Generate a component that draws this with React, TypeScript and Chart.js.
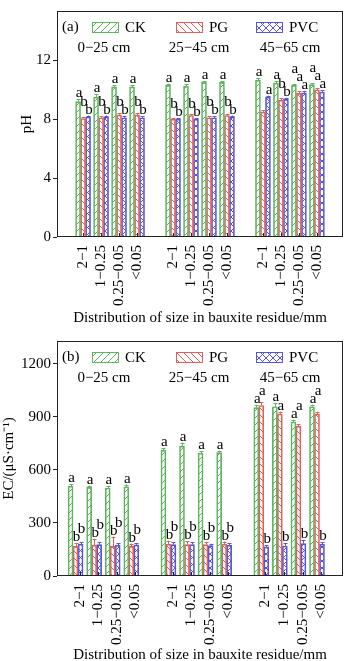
import React, { useEffect, useRef } from 'react';
import { Chart, registerables } from 'chart.js';
Chart.register(...registerables);

const FONT = '"Liberation Serif", "Times New Roman", serif';

const sizeLabels = ['2−1', '1−0.25', '0.25−0.05', '<0.05'];
const depthLabels = ['0−25 cm', '25−45 cm', '45−65 cm'];
const seriesNames = ['CK', 'PG', 'PVC'];
const seriesColors = ['rgb(95,180,95)', 'rgb(226,95,95)', 'rgb(85,85,220)'];
const hatchKinds = ['fwd', 'back', 'cross'];
const xTitle = 'Distribution of size in bauxite residue/mm';

// pH panel (a)
const phCK = [9.2, 9.5, 10.2, 10.2, 10.3, 10.25, 10.5, 10.5, 10.65, 10.45, 10.3, 10.35];
const phPG = [8.05, 8.1, 8.3, 8.3, 8.0, 8.25, 8.1, 8.25, 8.5, 9.3, 9.75, 10.0];
const phPVC = [8.15, 8.15, 8.1, 8.1, 8.0, 8.0, 8.1, 8.15, 9.5, 9.35, 9.8, 9.85];
const phCKErr = [0.15, 0.2, 0.12, 0.12, 0.12, 0.12, 0.1, 0.1, 0.12, 0.15, 0.1, 0.1];
const phPGErr = [0.1, 0.1, 0.1, 0.1, 0.08, 0.1, 0.12, 0.1, 0.1, 0.12, 0.15, 0.1];
const phPVCErr = [0.1, 0.1, 0.1, 0.1, 0.08, 0.08, 0.1, 0.1, 0.1, 0.1, 0.12, 0.12];
const phCKSig = ['a', 'a', 'a', 'a', 'a', 'a', 'a', 'a', 'a', 'a', 'a', 'a'];
const phPGSig = ['b', 'b', 'b', 'b', 'b', 'b', 'b', 'b', '', 'b', 'a', 'a'];
const phPVCSig = ['b', 'b', 'b', 'b', 'b', 'b', 'b', 'b', 'a', 'b', 'a', 'a'];
const phTicks = [0, 4, 8, 12];

// EC panel (b)
const ecCK = [508, 502, 498, 505, 712, 735, 695, 698, 953, 958, 872, 958];
const ecPG = [168, 175, 168, 168, 180, 178, 178, 180, 965, 918, 848, 918];
const ecPVC = [180, 178, 175, 176, 178, 178, 172, 175, 165, 170, 183, 180];
const ecCKErr = [10, 10, 12, 12, 12, 20, 12, 12, 15, 20, 12, 12];
const ecPGErr = [20, 35, 55, 15, 20, 20, 15, 15, 18, 12, 12, 12];
const ecPVCErr = [12, 12, 10, 10, 12, 12, 10, 10, 10, 15, 20, 12];
const ecCKSig = ['a', 'a', 'a', 'a', 'a', 'a', 'a', 'a', 'a', 'a', 'a', 'a'];
const ecPGSig = ['b', 'b', 'b', 'b', 'b', 'b', 'b', 'b', 'a', 'a', 'a', 'a'];
const ecPVCSig = ['b', 'b', 'b', 'b', 'b', 'b', 'b', 'b', 'b', 'b', 'b', 'b'];
const ecTicks = [0, 300, 600, 900, 1200];

function makePattern(kind: string, color: string) {
  const s = 7;
  const c = document.createElement('canvas');
  c.width = s;
  c.height = s;
  const g = c.getContext('2d')!;
  g.strokeStyle = color;
  g.lineWidth = 1;
  const line = (x0: number, y0: number, x1: number, y1: number) => {
    g.beginPath();
    g.moveTo(x0, y0);
    g.lineTo(x1, y1);
    g.stroke();
  };
  if (kind === 'fwd' || kind === 'cross') {
    line(-1, s + 1, s + 1, -1);
    line(-1, 1, 1, -1);
    line(s - 1, s + 1, s + 1, s - 1);
  }
  if (kind === 'back' || kind === 'cross') {
    line(-1, -1, s + 1, s + 1);
    line(s - 1, -1, s + 1, 1);
    line(-1, s - 1, 1, s + 1);
  }
  return g.createPattern(c, 'repeat');
}

// slot index per category: 4 sizes per depth, one empty slot between depths
const slotPositions: number[] = [];
depthLabels.forEach((_, g) => sizeLabels.forEach((__, c) => slotPositions.push(g * 5 + c)));

const overlay = {
  id: 'overlay',
  afterDatasetsDraw(chart: any, _args: any, opts: any) {
    const { ctx } = chart;
    const y = chart.scales.y;
    ctx.save();
    const tops: number[][] = [];
    chart.data.datasets.forEach((_ds: any, di: number) => {
      const meta = chart.getDatasetMeta(di);
      tops[di] = [];
      meta.data.forEach((el: any, i: number) => {
        const v = opts.values[di][i];
        const e = opts.errors[di][i];
        const yt = y.getPixelForValue(v + e);
        tops[di][i] = yt;
        ctx.strokeStyle = seriesColors[di];
        ctx.lineWidth = 1;
        const xx = Math.round(el.x) + 0.5;
        ctx.beginPath();
        ctx.moveTo(xx, el.y);
        ctx.lineTo(xx, yt);
        ctx.moveTo(xx - 2, Math.round(yt) + 0.5);
        ctx.lineTo(xx + 2, Math.round(yt) + 0.5);
        ctx.stroke();
      });
    });
    // significance letters
    ctx.fillStyle = '#000';
    ctx.font = `15px ${FONT}`;
    ctx.textAlign = 'center';
    ctx.textBaseline = 'alphabetic';
    const step = 8;
    const n = opts.values[0].length;
    for (let i = 0; i < n; i++) {
      const base: number[] = [0, 1, 2].map((d) => tops[d][i] - 2);
      const order = opts.stackDir === 'rtl' ? [1, 0] : [1, 2];
      order.forEach((d) => {
        const nb = opts.stackDir === 'rtl' ? d + 1 : d - 1;
        if (!opts.letters[d][i] || !opts.letters[nb][i]) return;
        if (Math.abs(base[d] - base[nb]) < step) base[d] = base[nb] - step;
      });
      for (let d = 0; d < 3; d++) {
        const t = opts.letters[d][i];
        if (!t) continue;
        const el = chart.getDatasetMeta(d).data[i];
        ctx.fillText(t, el.x + 1, base[d]);
      }
    }
    ctx.restore();
  },
  afterDraw(chart: any, _args: any, opts: any) {
    const { ctx, chartArea: a } = chart;
    const x = chart.scales.x;
    ctx.save();
    // frame
    ctx.strokeStyle = '#222';
    ctx.lineWidth = 1;
    ctx.strokeRect(Math.round(a.left) + 0.5, Math.round(a.top) + 0.5, Math.round(a.right - a.left) - 1, Math.round(a.bottom - a.top) - 1);
    // inward x tick marks
    ctx.beginPath();
    slotPositions.forEach((p) => {
      const px = Math.round(x.getPixelForValue(p) + opts.labelOffset) + 0.5;
      ctx.moveTo(px, a.bottom - 1);
      ctx.lineTo(px, a.bottom - 4);
    });
    ctx.stroke();
    // panel tag + legend
    ctx.fillStyle = '#000';
    ctx.font = `15px ${FONT}`;
    ctx.textBaseline = 'middle';
    ctx.textAlign = 'left';
    const ly = a.top + 16;
    ctx.fillText(opts.tag, a.left + 5, ly);
    const itemX = [35, 119, 199];
    seriesNames.forEach((name, d) => {
      const bx = a.left + itemX[d];
      ctx.fillStyle = '#fff';
      ctx.fillRect(bx, ly - 5, 27, 11);
      ctx.fillStyle = opts.patterns[d];
      ctx.fillRect(bx, ly - 5, 27, 11);
      ctx.strokeStyle = seriesColors[d];
      ctx.strokeRect(bx + 0.5, ly - 5 + 0.5, 26, 10);
      ctx.fillStyle = '#000';
      ctx.fillText(name, bx + 33, ly + 1);
    });
    // depth labels
    ctx.textAlign = 'center';
    const frac = [0.164, 0.497, 0.815];
    depthLabels.forEach((t, g) => {
      ctx.fillText(t, a.left + frac[g] * (a.right - a.left), a.top + 37);
    });
    ctx.restore();
  },
};

interface PanelCfg {
  tag: string;
  yTitle: string;
  values: number[][];
  errors: number[][];
  letters: string[][];
  yMax: number;
  yTicks: number[];
  xMin: number;
  xMax: number;
  labelOffset: number;
  stackDir: string;
  canvasH: number;
  padTop: number;
  xAxisH: number;
  yTitlePad: number;
  xTitlePad: number;
}

function Panel({ p }: { p: PanelCfg }) {
  const ref = useRef<HTMLCanvasElement>(null);
  useEffect(() => {
    const patterns = seriesColors.map((c, i) => makePattern(hatchKinds[i], c));
    const chart = new Chart(ref.current as HTMLCanvasElement, {
      type: 'bar',
      data: {
        datasets: seriesNames.map((n, d) => ({
          label: n,
          data: p.values[d].map((v, i) => ({ x: slotPositions[i], y: v })),
          backgroundColor: patterns[d] as any,
          borderColor: seriesColors[d],
          borderWidth: 1,
          barThickness: 5,
        })),
      },
      options: {
        animation: false,
        responsive: false,
        maintainAspectRatio: false,
        layout: { padding: { top: p.padTop, right: 7, left: 0, bottom: 0 } },
        plugins: {
          legend: { display: false },
          tooltip: { enabled: false },
          overlay: {
            values: p.values,
            errors: p.errors,
            letters: p.letters,
            stackDir: p.stackDir,
            tag: p.tag,
            patterns,
            labelOffset: p.labelOffset,
          },
        } as any,
        scales: {
          x: {
            type: 'linear',
            min: p.xMin,
            max: p.xMax,
            offset: false,
            grid: { display: false, drawTicks: false },
            border: { display: false },
            afterBuildTicks: (s: any) => {
              s.ticks = slotPositions.map((v) => ({ value: v }));
            },
            afterFit: (s: any) => {
              s.height = p.xAxisH;
            },
            ticks: {
              autoSkip: false,
              minRotation: 90,
              maxRotation: 90,
              padding: 8,
              labelOffset: p.labelOffset,
              color: '#000',
              font: { family: FONT, size: 15 },
              callback: (_v: any, i: number) => sizeLabels[i % sizeLabels.length],
            },
            title: {
              display: true,
              text: xTitle,
              color: '#000',
              font: { family: FONT, size: 15, lineHeight: 1.2 },
              padding: { top: 0, bottom: p.xTitlePad },
            },
          } as any,
          y: {
            min: 0,
            max: p.yMax,
            afterBuildTicks: (s: any) => {
              s.ticks = p.yTicks.map((v) => ({ value: v }));
            },
            afterFit: (s: any) => {
              s.width = 57;
            },
            grid: { display: true, drawOnChartArea: false, drawTicks: true, tickLength: 4, color: '#222' },
            border: { display: false },
            ticks: {
              color: '#000',
              font: { family: FONT, size: 15 },
              padding: 2,
              callback: (v: any) => String(v),
            },
            title: {
              display: true,
              text: p.yTitle,
              color: '#000',
              font: { family: FONT, size: 15, lineHeight: 1.2 },
              padding: { top: p.yTitlePad, bottom: 0 },
            },
          } as any,
        },
      },
      plugins: [overlay as any],
    });
    return () => chart.destroy();
  }, []);
  return <canvas ref={ref} width={350} height={p.canvasH} style={{ display: 'block', width: 350, height: p.canvasH }} />;
}

const phPanel: PanelCfg = {
  tag: '(a)',
  yTitle: 'pH',
  values: [phCK, phPG, phPVC],
  errors: [phCKErr, phPGErr, phPVCErr],
  letters: [phCKSig, phPGSig, phPVCSig],
  yMax: 15.35,
  yTicks: phTicks,
  xMin: -1.45,
  xMax: 14.45,
  labelOffset: 0,
  stackDir: 'rtl',
  canvasH: 330,
  padTop: 3,
  xAxisH: 93,
  yTitlePad: 18,
  xTitlePad: 3,
};

const ecPanel: PanelCfg = {
  tag: '(b)',
  yTitle: 'EC/(μS·cm⁻¹)',
  values: [ecCK, ecPG, ecPVC],
  errors: [ecCKErr, ecPGErr, ecPVCErr],
  letters: [ecCKSig, ecPGSig, ecPVCSig],
  yMax: 1330,
  yTicks: ecTicks,
  xMin: -1.0,
  xMax: 14.4,
  labelOffset: 4.2,
  stackDir: 'ltr',
  canvasH: 331,
  padTop: 9,
  xAxisH: 85,
  yTitlePad: 0,
  xTitlePad: -3,
};

export default function App() {
  return (
    <div style={{ position: 'absolute', left: 0, top: 0, width: 350, height: 661, background: '#fff' }}>
      <Panel p={phPanel} />
      <Panel p={ecPanel} />
    </div>
  );
}
